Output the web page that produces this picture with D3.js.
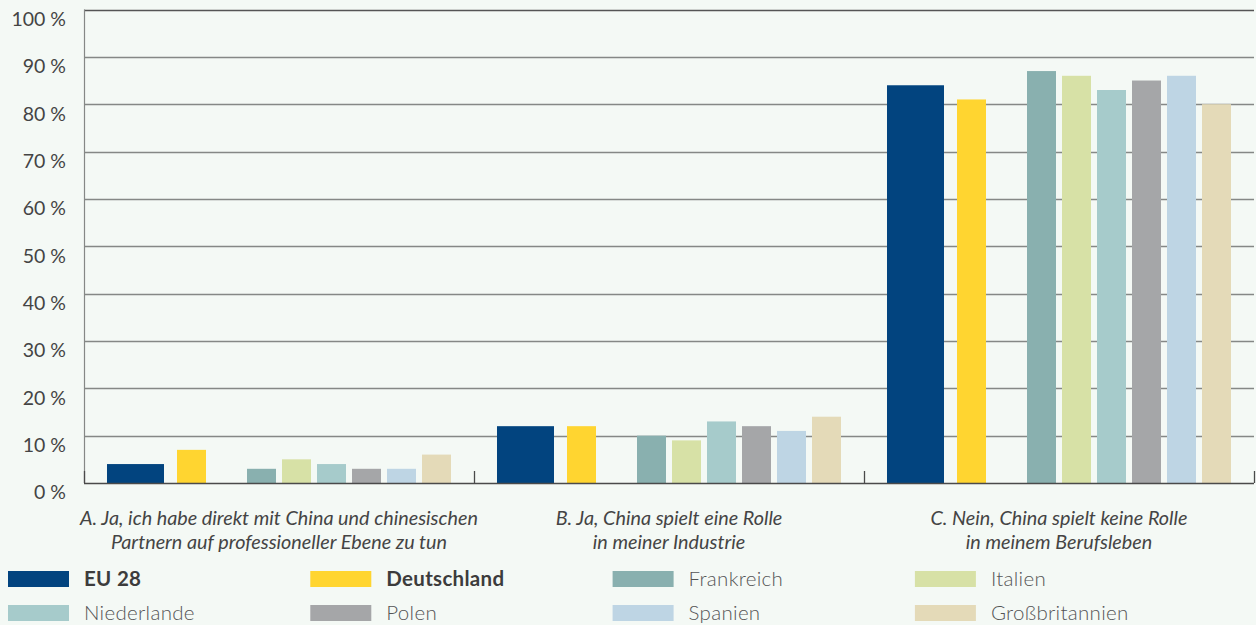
<!DOCTYPE html>
<html>
<head>
<meta charset="utf-8">
<script src="https://cdn.jsdelivr.net/npm/d3@7"></script>
<style>
  html, body { margin: 0; padding: 0; background: #f4f9f5; }
  svg { display: block; font-family: Lato, "Open Sans", sans-serif; }
</style>
</head>
<body>
<svg id="chart" width="1256" height="625"></svg>
<script>
// Survey answers: role of China in respondents' professional life (share in %)
const categories = [
  ["A. Ja, ich habe direkt mit China und chinesischen", "Partnern auf professioneller Ebene zu tun"],
  ["B. Ja, China spielt eine Rolle", "in meiner Industrie"],
  ["C. Nein, China spielt keine Rolle", "in meinem Berufsleben"]
];
const countries = ["EU 28", "Deutschland", "Frankreich", "Italien", "Niederlande", "Polen", "Spanien", "Großbritannien"];
const colors = ["#02447f", "#ffd530", "#89b0af", "#d7e1a6", "#a6cbcb", "#a5a6a8", "#bed5e4", "#e4dab8"];

const eu28        = [4, 12, 84];
const deutschland = [7, 12, 81];
const frankreich  = [3, 10, 87];
const italien     = [5, 9, 86];
const niederlande = [4, 13, 83];
const polen       = [3, 12, 85];
const spanien     = [3, 11, 86];
const grossbritannien = [6, 14, 80];

const yTicks = [0, 10, 20, 30, 40, 50, 60, 70, 80, 90, 100];

const seriesValues = [eu28, deutschland, frankreich, italien, niederlande, polen, spanien, grossbritannien];

const svg = d3.select("#chart");
const plot = { left: 84, right: 1254, top: 9.5, bottom: 483 };

const y = d3.scaleLinear().domain([0, 100]).range([plot.bottom, plot.top]);
const x0 = d3.scaleBand().domain(d3.range(categories.length)).range([plot.left, plot.right]);

// ten slots per group: EU 28 takes two, one empty slot after Deutschland
const slotOf = [0, 2, 4, 5, 6, 7, 8, 9];
const x1 = d3.scaleBand().domain(d3.range(10)).range([0, x0.bandwidth()])
  .paddingInner(6 / 35).paddingOuter(0.657);
const barWidth = i => i === 0 ? x1.bandwidth() * 2 - 1 : x1.bandwidth();

// gridlines
svg.append("g")
  .selectAll("line")
  .data(yTicks.filter(d => d > 0))
  .join("line")
  .attr("x1", plot.left).attr("x2", plot.right)
  .attr("y1", d => Math.round(y(d)) + 0.5).attr("y2", d => Math.round(y(d)) + 0.5)
  .attr("stroke", d => d === 100 ? "#555" : "#858886")
  .attr("stroke-width", 1.6);

// y axis line
svg.append("line")
  .attr("x1", plot.left + 0.5).attr("x2", plot.left + 0.5)
  .attr("y1", plot.top).attr("y2", plot.bottom)
  .attr("stroke", "#858886").attr("stroke-width", 1.2);

// y tick labels, set just below their gridline
svg.append("g")
  .selectAll("text")
  .data(yTicks)
  .join("text")
  .attr("x", 66)
  .attr("y", d => y(d) + 9.5)
  .attr("dy", "0.35em")
  .attr("text-anchor", "end")
  .attr("font-size", 19.5)
  .attr("fill", "#444")
  .text(d => d + " %");

// bars
const rows = [];
categories.forEach((c, g) => {
  countries.forEach((name, i) => rows.push({ g, i, v: seriesValues[i][g] }));
});
svg.append("g")
  .selectAll("rect")
  .data(rows)
  .join("rect")
  .attr("x", d => x0(d.g) + x1(slotOf[d.i]))
  .attr("width", d => barWidth(d.i))
  .attr("y", d => y(d.v))
  .attr("height", d => y(0) - y(d.v))
  .attr("fill", d => colors[d.i]);

// x axis baseline and group separators
svg.append("line")
  .attr("x1", plot.left).attr("x2", plot.right)
  .attr("y1", plot.bottom + 0.5).attr("y2", plot.bottom + 0.5)
  .attr("stroke", "#4a4a4a").attr("stroke-width", 1.6);
svg.append("g")
  .selectAll("line")
  .data(d3.range(categories.length + 1))
  .join("line")
  .attr("x1", d => (d < categories.length ? x0(d) : plot.right) + 0.5)
  .attr("x2", d => (d < categories.length ? x0(d) : plot.right) + 0.5)
  .attr("y1", plot.bottom - 12).attr("y2", plot.bottom)
  .attr("stroke", "#4a4a4a").attr("stroke-width", 1.3);

// category labels
const catG = svg.append("g")
  .selectAll("text")
  .data(categories)
  .join("text")
  .attr("x", (d, i) => x0(i) + x0.bandwidth() / 2)
  .attr("y", 525)
  .attr("text-anchor", "middle")
  .attr("font-size", 19.8)
  .attr("font-style", "italic")
  .attr("fill", "#444");
catG.selectAll("tspan")
  .data(d => d)
  .join("tspan")
  .attr("x", function () { return d3.select(this.parentNode).attr("x"); })
  .attr("dy", (d, i) => i === 0 ? 0 : 24)
  .text(d => d);

// legend
const legend = svg.append("g")
  .selectAll("g")
  .data(countries)
  .join("g")
  .attr("transform", (d, i) => `translate(${8 + (i % 4) * 302.3},${571 + Math.floor(i / 4) * 34})`);
legend.append("rect")
  .attr("width", 61).attr("height", 16)
  .attr("fill", (d, i) => colors[i]);
legend.append("text")
  .attr("x", 76).attr("y", 14.5)
  .attr("font-size", 20.5)
  .attr("letter-spacing", 0.3)
  .attr("font-weight", (d, i) => i < 2 ? 700 : 300)
  .attr("fill", (d, i) => i < 2 ? "#3c3c3c" : "#555")
  .text(d => d);
</script>
</body>
</html>
